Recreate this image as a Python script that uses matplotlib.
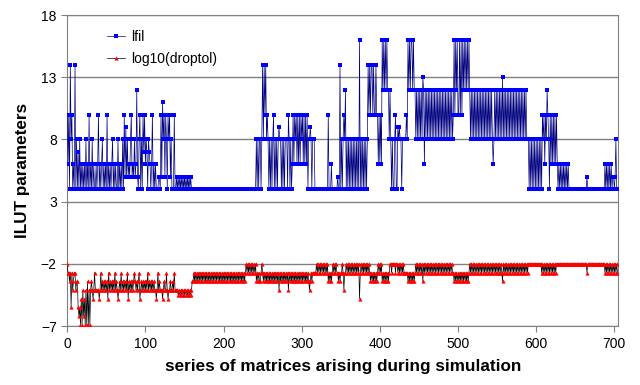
import numpy as np
import matplotlib.pyplot as plt

plt.rcParams['font.family'] = ['Liberation Sans', 'DejaVu Sans']

# level codes (one character per matrix in the series)
lfil_levels = {'4': 4, '5': 5, '6': 6, '7': 7, '8': 8, '9': 9,
               'a': 10, 'b': 11, 'c': 12, 'd': 13, 'e': 14, 'g': 16}
drop_levels = {'0': -2.0, '1': -2.7, '2': -3.4, '3': -4.1, 'h': -4.5,
               '4': -4.8, '5': -5.5, '6': -6.2, '7': -6.9}

lfil_codes = """
a6a4e8a464e484 74846464648464a 46484644646a46468
46464 a4646 46846 46448 46464 84
a5958 5658a 56585 6c5
48a48 4a7a6 87487 646a4 64644 45
54a5b 8a5a8 4a8a5 8444a 445
45454 54545 45454 545
4444444444 4444444444 4444444444 4444444444 4444444444
4444444444 4444444444 4444444444 444
84848 848
e8eae 8a
84848 48a48 48489 88484 84888 4a848 4
6a6a8 a6a6a 6a8a6 a6a6a
48898 4888
44444 44444 44444 44a44 46444 4444
544e4 848a8 c
48484 84848 48484 84g48 48484 848
eaeae eaeaa eaa6
a6a6g cgcgc gcc8c 8
48448 a4498 98848 8888a 8
gcgcg gcgcc
8c8c8 c8c8d c
6
c8c8c 8c8c8 c8c8c 8c8c8 c8c8c 8c8c8 c8c8c 8a
gagcg aagag agcgc gcgcg c
8c8c8 c8c8c 8c8c8 c8c8c 8c8c8 c8c86
8c8c8 c8c8c 8d8c8 c8c8c 8c8c8 c8c8c 8c8c8 c8c8c 8c888
48484 84848 48484 84
a8a6a 8ca8
4
a6a6a 6a6a6
46464 64646 46464
44444 44444 44444 44444 44
5
44444 44444 44444 44444 44
64646 46464
55458 44
"""

drop_codes = """
01121 51321 1322
56574 73647 37273 73
23431 33333 4
313
23232 32413 23232 31323 43231 32323 23142 32323 21232 32143 23232 32313 23232 323
34313 23334 32331 34332 33231 333
3h3h3 h3h3h 3h3h3 h3h
322
12121 21212 12121 21212 12121 21212 12121 21212 12121 21212 12121 21212 12121 21
01010 10101 010
21212 21
0
12121 21212 12121 21212 13121 21212 12131 21212 12121 21212 12121 21212 32121
1111
01010 10101 01010
21212
10101 01
12121 1
01311
01010 10101 01010 10
4
1
01010 10101 0
12121 21212
10101 0
21212 1212
1
00100 00100
10101 010
11111
21212 12121
01010 1010
2
01010 10101 01010 10101 01010 10101 01010 101
12121 21212 12121 21212 1
01010 10101 01010 10101 01010 10101 01010 10101 01
2
01010 10101 01010 10101 01010 10101 01
00000 00000 00000 00
10101 01010 10101 0101
00000 00000 00000 00000 00000 00000 00000 0000
1
00000 00000 00000 00000 00
10101 01010 10101 01
"""

lfil = [lfil_levels[c] for c in "".join(lfil_codes.split())]
droptol = [drop_levels[c] for c in "".join(drop_codes.split())]

fig = plt.figure(figsize=(6.4, 3.85), dpi=100)
ax = fig.add_axes([0.105, 0.153, 0.861, 0.808])

ax.plot(np.arange(len(lfil)), lfil, color='#000080', lw=0.5,
        marker='s', ms=2.5, mfc='#0000ff', mec='#0000ff', mew=0,
        label='lfil', zorder=3)
ax.plot(np.arange(len(droptol)), droptol, color='black', lw=0.5,
        marker='^', ms=3, mfc='#ff0000', mec='#ff0000', mew=0,
        label='log10(droptol)', zorder=3)

ax.set_xlim(0, 705)
ax.set_ylim(-7, 18)
ax.set_xticks(range(0, 701, 100))
ax.set_yticks([-7, -2, 3, 8, 13, 18])
ax.yaxis.grid(True, color='#808080', lw=1)
ax.set_axisbelow(True)
for s in ax.spines.values():
    s.set_color('#808080')
ax.tick_params(axis='both', colors='#808080', labelcolor='black',
               labelsize=10, length=4)

ax.set_xlabel('series of matrices arising during simulation',
              fontsize=12.3, fontweight='bold', labelpad=6)
ax.set_ylabel('ILUT parameters', fontsize=12.3, fontweight='bold',
              labelpad=8)

ax.legend(loc='upper left', bbox_to_anchor=(0.06, 0.975), frameon=False,
          fontsize=10, handlelength=1.3, handletextpad=0.4,
          labelspacing=0.6, borderpad=0)

plt.savefig('out.png', dpi=100)
